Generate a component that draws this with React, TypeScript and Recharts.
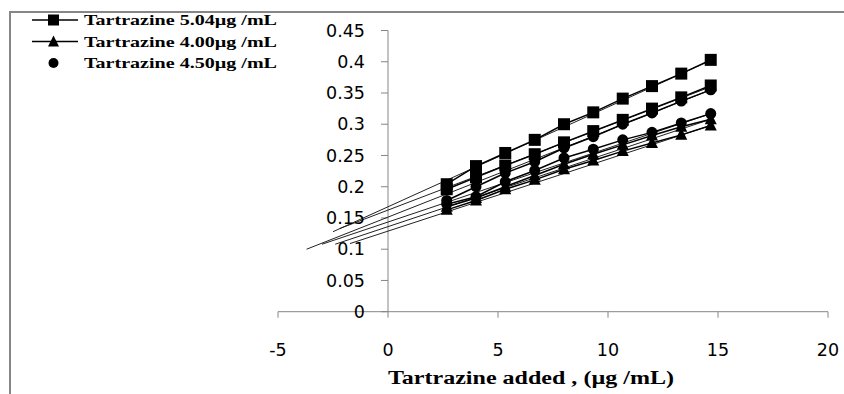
import { ComposedChart, Line, XAxis, YAxis, ReferenceLine, ReferenceDot } from "recharts";

// amount of tartrazine added (µg/mL)
const addedX = [2.67, 4, 5.33, 6.67, 8, 9.33, 10.67, 12, 13.33, 14.67];

// absorbance readings, one list per run
const sq504a = [0.204, 0.233, 0.254, 0.275, 0.3, 0.319, 0.341, 0.361, 0.381, 0.403];
const sq504b = [0.196, 0.215, 0.234, 0.252, 0.271, 0.289, 0.307, 0.325, 0.343, 0.362];
const ci450a = [0.178, 0.2, 0.222, 0.24, 0.262, 0.28, 0.3, 0.318, 0.337, 0.355];
const ci450b = [0.172, 0.184, 0.208, 0.226, 0.246, 0.26, 0.275, 0.287, 0.302, 0.317];
const tr400a = [0.168, 0.182, 0.2, 0.218, 0.236, 0.252, 0.267, 0.282, 0.296, 0.308];
const tr400b = [0.163, 0.178, 0.196, 0.211, 0.228, 0.242, 0.257, 0.27, 0.283, 0.298];

// extrapolated linear trends [x, y] endpoints
const trendSq504a = [[-2.5, 0.128], [14.67, 0.402]];
const trendSq504b = [[-2.2, 0.133], [14.67, 0.36]];
const trendCi450a = [[-3.7, 0.1], [14.67, 0.355]];
const trendCi450b = [[-3.0, 0.108], [14.67, 0.317]];
const trendTr400a = [[-2.4, 0.108], [14.67, 0.308]];
const trendTr400b = [[-1.73, 0.109], [14.67, 0.298]];

const legendNames = ["Tartrazine 5.04µg /mL", "Tartrazine 4.00µg /mL", "Tartrazine 4.50µg /mL"];
const xTicks = [-5, 0, 5, 10, 15, 20];
const yTicks = [0, 0.05, 0.1, 0.15, 0.2, 0.25, 0.3, 0.35, 0.4, 0.45];

const AXIS = "#868686";
const TICK_FONT = "'DejaVu Sans', sans-serif";
const SERIF = "'Liberation Serif', 'Times New Roman', serif";

const toPoints = (ys: number[]) => ys.map((y, i) => ({ x: addedX[i], y }));
const trendPoints = (pts: number[][]) => pts.map(([x, y]) => ({ x, y }));

const SquareDot = (p: any) =>
  p.cx == null ? null : <rect key={p.index} x={p.cx - 6} y={p.cy - 6} width={12} height={12} fill="#000" />;
const TriangleDot = (p: any) =>
  p.cx == null ? null : (
    <path key={p.index} d={`M${p.cx},${p.cy - 7}L${p.cx + 6},${p.cy + 5}L${p.cx - 6},${p.cy + 5}Z`} fill="#000" />
  );
const CircleDot = (p: any) =>
  p.cx == null ? null : <circle key={p.index} cx={p.cx} cy={p.cy} r={5.5} fill="#000" />;

const legendText = (y: number, s: string) => (
  <text
    x={56}
    y={y}
    fontFamily={SERIF}
    fontWeight="bold"
    fontSize={15}
    textLength={193}
    lengthAdjust="spacingAndGlyphs"
  >
    {s}
  </text>
);

const ChartLegend = () => (
  <svg width={270} height={66} style={{ position: "absolute", left: 28, top: 10 }}>
    <line x1={4} y1={10} x2={50} y2={10} stroke="#000" strokeWidth={1.5} />
    <rect x={20} y={4.5} width={11} height={11} fill="#000" />
    {legendText(15, legendNames[0])}
    <line x1={4} y1={31.5} x2={50} y2={31.5} stroke="#000" strokeWidth={1.5} />
    <path d="M25.5,25.5L31,36.5L20,36.5Z" fill="#000" />
    {legendText(36.5, legendNames[1])}
    <circle cx={25.5} cy={53} r={5} fill="#000" />
    {legendText(58, legendNames[2])}
  </svg>
);

const dataSeries = [
  { key: "sq504a", ys: sq504a, dot: SquareDot },
  { key: "sq504b", ys: sq504b, dot: SquareDot },
  { key: "ci450a", ys: ci450a, dot: CircleDot },
  { key: "ci450b", ys: ci450b, dot: CircleDot },
  { key: "tr400a", ys: tr400a, dot: TriangleDot },
  { key: "tr400b", ys: tr400b, dot: TriangleDot },
];
const trends = [trendSq504a, trendSq504b, trendCi450a, trendCi450b, trendTr400a, trendTr400b];

export default function App() {
  return (
    <div style={{ position: "absolute", left: 0, top: 0, width: 844, height: 394, overflow: "hidden", background: "#fff" }}>
      <div
        style={{
          position: "absolute",
          left: 9,
          top: 11,
          width: 900,
          height: 500,
          borderLeft: `2px solid ${AXIS}`,
          borderTop: `2px solid ${AXIS}`,
        }}
      />
      <ComposedChart width={844} height={394} margin={{ top: 30.5, right: 16, bottom: 52.3, left: 278 }}>
        <XAxis
          type="number"
          dataKey="x"
          domain={[-5, 20]}
          ticks={xTicks}
          allowDataOverflow
          height={30}
          stroke={AXIS}
          tickSize={6}
          tickMargin={26}
          tick={{ fill: "#000", fontSize: 17.5, fontFamily: TICK_FONT }}
          label={{
            content: () => (
              <text
                x={388}
                y={384}
                fontFamily={SERIF}
                fontWeight="bold"
                fontSize={18}
                textLength={286}
                lengthAdjust="spacingAndGlyphs"
              >
                Tartrazine added , (µg /mL)
              </text>
            ),
          }}
        />
        <YAxis type="number" dataKey="y" domain={[0, 0.45]} ticks={yTicks} hide />
        <ReferenceLine x={0} stroke={AXIS} strokeWidth={1} />
        {yTicks.map((v) => (
          <ReferenceLine
            key={`yt-${v}`}
            segment={[
              { x: -0.32, y: v },
              { x: 0, y: v },
            ]}
            stroke={AXIS}
          />
        ))}
        {yTicks.map((v) => (
          <ReferenceDot
            key={`yl-${v}`}
            x={0}
            y={v}
            r={0}
            stroke="none"
            fill="none"
            label={{
              value: String(v),
              position: "left",
              offset: 23,
              fill: "#000",
              fontSize: 17.5,
              fontFamily: TICK_FONT,
            }}
          />
        ))}
        {trends.map((t, i) => (
          <Line
            key={`trend-${i}`}
            data={trendPoints(t)}
            dataKey="y"
            type="linear"
            stroke="#222"
            strokeWidth={1}
            dot={false}
            activeDot={false}
            isAnimationActive={false}
            legendType="none"
          />
        ))}
        {dataSeries.map((s) => (
          <Line
            key={s.key}
            data={toPoints(s.ys)}
            dataKey="y"
            type="linear"
            stroke="#000"
            strokeWidth={1.5}
            dot={s.dot}
            activeDot={false}
            isAnimationActive={false}
          />
        ))}
      </ComposedChart>
      <ChartLegend />
    </div>
  );
}
